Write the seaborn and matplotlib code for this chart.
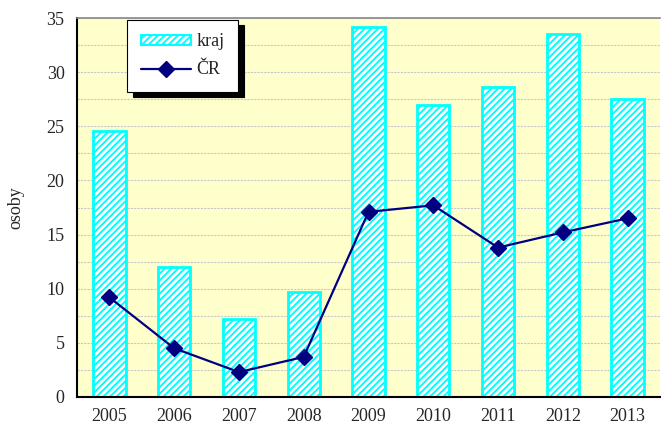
import numpy as np
import pandas as pd
import matplotlib
matplotlib.use("Agg")
import matplotlib.pyplot as plt
import seaborn as sns
from matplotlib.patches import Patch
from matplotlib.lines import Line2D

years = ["2005", "2006", "2007", "2008", "2009", "2010", "2011", "2012", "2013"]
kraj = [24.6, 12.0, 7.2, 9.7, 34.2, 27.0, 28.6, 33.5, 27.5]
cr = [9.2, 4.5, 2.3, 3.7, 17.1, 17.7, 13.8, 15.2, 16.5]

sns.set_style("white")
plt.rcParams["font.family"] = ["Liberation Serif", "DejaVu Serif"]
plt.rcParams["hatch.linewidth"] = 1.4

fig = plt.figure(figsize=(6.61, 4.25), dpi=100)
ax = fig.add_axes([0.1165, 0.0659, 0.882, 0.8917])
ax.set_facecolor("#FFFFCC")

df = pd.DataFrame({"rok": years, "kraj": kraj})
sns.barplot(data=df, x="rok", y="kraj", ax=ax, color="white", width=0.5,
            edgecolor="#00FFFF", linewidth=2, saturation=1, zorder=2)
for p in ax.patches:
    p.set_hatch("/////")
    p.set_edgecolor("#00FFFF")
    p.set_facecolor("white")

xpos = np.arange(len(years))
ax.plot(xpos, cr, color="#000080", linewidth=1.6, marker="D", markersize=8,
        markerfacecolor="#000080", markeredgecolor="#000080", zorder=4)

ax.set_xlim(-0.5, len(years) - 0.5)
ax.set_ylim(0, 35)
ax.set_yticks(np.arange(0, 36, 5))
ax.set_yticks(np.arange(2.5, 35, 5), minor=True)
ax.yaxis.grid(True, which="both", color="#C8C8C8", linestyle=(0, (2, 1)), linewidth=0.8, zorder=0)
ax.set_axisbelow(True)
ax.set_xticks(xpos)
ax.set_xticklabels(years)
ax.set_xticks(np.arange(-0.5, len(years), 1.0), minor=True)
ax.tick_params(axis="x", which="major", length=0, labelsize=13, pad=8)
ax.tick_params(axis="x", which="minor", length=5, width=1, color="#555555", direction="out")
ax.tick_params(axis="y", which="major", length=5, width=1, direction="out", labelsize=13, pad=4)
ax.tick_params(axis="y", which="minor", length=0)
ax.set_xlabel("")
ax.set_ylabel("osoby", fontsize=13, labelpad=16)

for s in ["left", "bottom"]:
    ax.spines[s].set_color("black")
    ax.spines[s].set_linewidth(1.5)
ax.spines["top"].set_color("#888888")
ax.spines["top"].set_linewidth(1.2)
ax.spines["right"].set_visible(False)

handles = [
    Patch(facecolor="white", edgecolor="#00FFFF", hatch="/////", linewidth=1.5, label="kraj"),
    Line2D([0], [0], color="#000080", marker="D", markersize=8, linewidth=1.6, label="ČR"),
]
leg = ax.legend(handles=handles, loc="upper left", bbox_to_anchor=(0.086, 0.995),
                borderaxespad=0, fontsize=13, frameon=True, fancybox=False, framealpha=1,
                edgecolor="black", handlelength=2.8, handleheight=0.5, labelspacing=0.6,
                borderpad=0.75, handletextpad=0.3,
                shadow={"color": "black", "alpha": 1, "ox": 4, "oy": -4})
leg.get_frame().set_linewidth(0.8)

fig.savefig("out.png", dpi=100)
